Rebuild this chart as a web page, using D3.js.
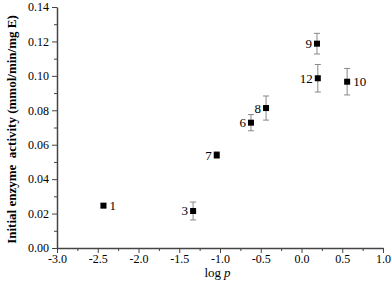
<!DOCTYPE html>
<html>
<head>
<meta charset="utf-8">
<script src="https://cdn.jsdelivr.net/npm/d3@7"></script>
<style>
  body { margin: 0; background: #fff; }
  svg { font-family: "Liberation Serif", "Times New Roman", serif; }
</style>
</head>
<body>
<svg width="392" height="282"></svg>
<script>
// data
var labels = ["1", "3", "7", "6", "8", "9", "12", "10"];
var logP   = [-2.43, -1.33, -1.04, -0.62, -0.435, 0.19, 0.20, 0.56];
var act    = [0.0246, 0.0215, 0.054, 0.0728, 0.0813, 0.1187, 0.0986, 0.0966];
var err    = [0.001, 0.0052, 0.002, 0.0047, 0.007, 0.006, 0.008, 0.0077];
// label side: "r" right of marker, "l" left
var side   = ["r", "l", "l", "l", "l", "l", "l", "r"];

var xTicks = [-3.0, -2.5, -2.0, -1.5, -1.0, -0.5, 0.0, 0.5, 1.0];
var yTicks = [0, 0.02, 0.04, 0.06, 0.08, 0.10, 0.12, 0.14];

var svg = d3.select("svg"),
    margin = {top: 7, right: 9, bottom: 34, left: 57},
    width = +svg.attr("width") - margin.left - margin.right,
    height = +svg.attr("height") - margin.top - margin.bottom,
    g = svg.append("g").attr("transform", "translate(" + margin.left + "," + margin.top + ")");

var x = d3.scaleLinear().domain([-3, 1]).range([0, width]),
    y = d3.scaleLinear().domain([0, 0.14]).range([height, 0]);

var axisColor = "#444";

// minor ticks
g.append("g")
    .attr("transform", "translate(0," + height + ")")
    .call(d3.axisBottom(x).tickValues(d3.range(-2.75, 1, 0.5)).tickSize(3).tickFormat(""))
    .call(function(s) { s.select(".domain").remove(); s.selectAll("line").attr("stroke", axisColor); });
g.append("g")
    .call(d3.axisLeft(y).tickValues(d3.range(0.01, 0.14, 0.02)).tickSize(3).tickFormat(""))
    .call(function(s) { s.select(".domain").remove(); s.selectAll("line").attr("stroke", axisColor); });

// main axes
var xa = g.append("g")
    .attr("transform", "translate(0," + height + ")")
    .call(d3.axisBottom(x).tickValues(xTicks).tickSize(5).tickSizeOuter(0).tickFormat(d3.format(".1f")));
var ya = g.append("g")
    .call(d3.axisLeft(y).tickValues(yTicks).tickSize(5).tickSizeOuter(0).tickFormat(d3.format(".2f")));

[xa, ya].forEach(function(a) {
  a.select(".domain").attr("stroke", axisColor).attr("stroke-width", 1.5);
  a.selectAll(".tick line").attr("stroke", axisColor);
  a.selectAll("text").attr("fill", "#000").style("font-size", "12px")
    .style("font-family", "Liberation Serif, serif");
});
xa.selectAll("text").attr("dy", "0.6em")
  .text(function(d) { return d < 0 ? "-" + d3.format(".1f")(-d) : d3.format(".1f")(d); });

// axis titles
var cx = margin.left + width / 2;
svg.append("text")
    .attr("x", cx + 1)
    .attr("y", 277)
    .attr("text-anchor", "end")
    .style("font-size", "13px")
    .text("log");
svg.append("text")
    .attr("x", cx + 4)
    .attr("y", 277)
    .attr("text-anchor", "start")
    .style("font-size", "13px")
    .style("font-style", "italic")
    .text("p");

svg.append("text")
    .attr("transform", "translate(16," + (margin.top + height / 2 + 2) + ") rotate(-90)")
    .attr("text-anchor", "middle")
    .style("font-size", "13px")
    .style("font-weight", "bold")
    .text("Initial enzyme\u00a0 activity (mmol/min/mg E)");

var pts = labels.map(function(l, i) {
  return {label: l, x: logP[i], y: act[i], e: err[i], side: side[i]};
});

// error bars
var eb = g.selectAll(".err").data(pts).enter().append("g").attr("class", "err")
    .attr("stroke", "#888").attr("stroke-width", 1);
eb.append("line")
    .attr("x1", function(d) { return x(d.x); })
    .attr("x2", function(d) { return x(d.x); })
    .attr("y1", function(d) { return y(d.y - d.e); })
    .attr("y2", function(d) { return y(d.y + d.e); });
eb.append("line")
    .attr("x1", function(d) { return x(d.x) - 3; })
    .attr("x2", function(d) { return x(d.x) + 3; })
    .attr("y1", function(d) { return y(d.y - d.e); })
    .attr("y2", function(d) { return y(d.y - d.e); });
eb.append("line")
    .attr("x1", function(d) { return x(d.x) - 3; })
    .attr("x2", function(d) { return x(d.x) + 3; })
    .attr("y1", function(d) { return y(d.y + d.e); })
    .attr("y2", function(d) { return y(d.y + d.e); });

// markers
g.selectAll(".pt").data(pts).enter().append("rect")
    .attr("class", "pt")
    .attr("x", function(d) { return x(d.x) - 3; })
    .attr("y", function(d) { return y(d.y) - 3; })
    .attr("width", 6).attr("height", 6)
    .attr("fill", "#000");

// point labels
g.selectAll(".lbl").data(pts).enter().append("text")
    .attr("class", "lbl")
    .attr("x", function(d) { return d.side === "r" ? x(d.x) + 6 : x(d.x) - 5; })
    .attr("y", function(d) { return y(d.y) + 4.5; })
    .attr("text-anchor", function(d) { return d.side === "r" ? "start" : "end"; })
    .attr("fill", "#000")
    .style("font-size", "13px")
    .text(function(d) { return d.label; });
</script>
</body>
</html>
